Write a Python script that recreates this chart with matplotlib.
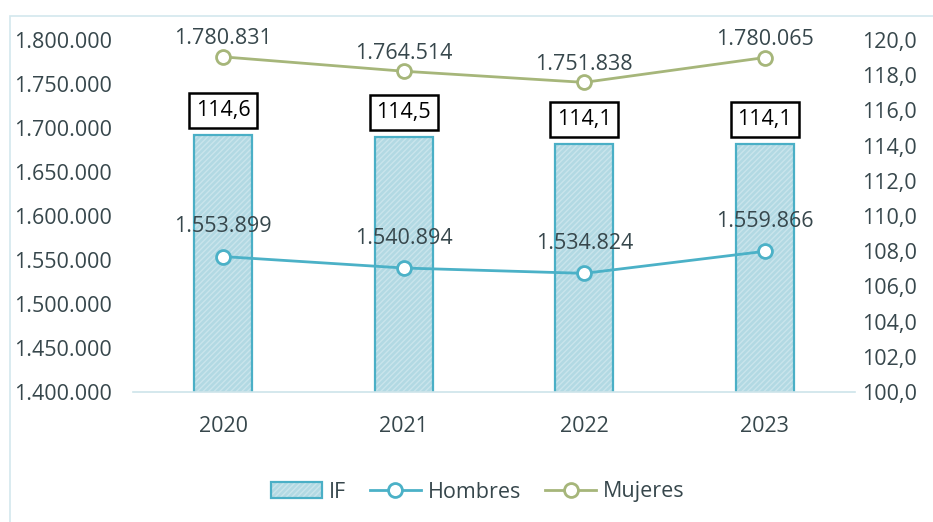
import matplotlib
matplotlib.use("Agg")
import matplotlib.pyplot as plt
from matplotlib.legend_handler import HandlerTuple
from matplotlib.patches import Rectangle

years = ["2020", "2021", "2022", "2023"]
indice_f = [114.6, 114.5, 114.1, 114.1]
hombres = [1553899, 1540894, 1534824, 1559866]
mujeres = [1780831, 1764514, 1751838, 1780065]


def miles(v):
    return f"{v:,.0f}".replace(",", ".")


txt = "#37474c"
c_bar = "#b2d9e3"
c_edge = "#4aafc6"
c_h = "#4bb1c7"
c_m = "#a6b67a"
fs = 15.5
plt.rcParams["font.family"] = ["Open Sans", "DejaVu Sans"]
plt.rcParams["font.size"] = fs

fig = plt.figure(figsize=(9.33, 5.22), dpi=100)
# chart frame (only left and top edges visible)
fig.patches.append(Rectangle((10 / 933, -0.1), 1.2, 1 - 16 / 522 + 0.1,
                             transform=fig.transFigure, fill=False,
                             edgecolor="#d3e8ed", lw=1.2))

ax = fig.add_axes([133 / 933, 1 - 392 / 522, 722 / 933, 352 / 522])
ax2 = ax.twinx()
x = range(len(years))

# bars on right axis
b1 = ax2.bar(x, indice_f, width=0.32, color=c_bar, edgecolor=(1, 1, 1, 0.3),
             hatch="//////", lw=0, zorder=2)
b2 = ax2.bar(x, indice_f, width=0.32, facecolor="none", edgecolor=c_edge,
             lw=1.6, zorder=3)
for i, v in enumerate(indice_f):
    ax2.annotate(f"{v:.1f}".replace(".", ","), (i, v), xytext=(0, 10),
                 textcoords="offset points", ha="center", va="bottom",
                 color="black", fontsize=fs,
                 bbox=dict(boxstyle="square,pad=0.32", fc="white", ec="black", lw=1.8))
ax2.set_ylim(100, 120)
ax2.set_yticks([100 + 2 * k for k in range(11)])
ax2.set_yticklabels([f"{100 + 2 * k:.1f}".replace(".", ",") for k in range(11)])

# lines on left axis, drawn above bars
ax.set_zorder(ax2.get_zorder() + 1)
ax.patch.set_visible(False)
lh, = ax.plot(x, hombres, color=c_h, lw=2, marker="o", ms=10, mfc="white",
              mec=c_h, mew=2, zorder=4)
lm, = ax.plot(x, mujeres, color=c_m, lw=2, marker="o", ms=10, mfc="white",
              mec=c_m, mew=2, zorder=4)
for i, v in enumerate(hombres):
    ax.annotate(miles(v), (i, v), xytext=(0, 14), textcoords="offset points",
                ha="center", va="bottom", color=txt)
for i, v in enumerate(mujeres):
    ax.annotate(miles(v), (i, v), xytext=(0, 5.5), textcoords="offset points",
                ha="center", va="bottom", color=txt)
ax.set_ylim(1400000, 1800000)
ax.set_yticks(range(1400000, 1800001, 50000))
ax.set_yticklabels([miles(v) for v in range(1400000, 1800001, 50000)])
ax.set_xlim(-0.5, 3.5)
ax.set_xticks(list(x))
ax.set_xticklabels(years)

for a in (ax, ax2):
    for s in a.spines.values():
        s.set_visible(False)
    a.tick_params(length=0, colors=txt, labelsize=fs)
ax.spines["bottom"].set_visible(True)
ax.spines["bottom"].set_color("#cde4ea")
ax.spines["bottom"].set_linewidth(1.2)
ax.tick_params(axis="y", pad=15)
ax.tick_params(axis="x", pad=17)
ax2.tick_params(axis="y", pad=5)

fig.legend([(b1[0], b2[0]), lh, lm], ["IF", "Hombres", "Mujeres"],
           handler_map={tuple: HandlerTuple(ndivide=1)},
           loc="center", bbox_to_anchor=(0.5 + 11 / 933, 1 - 492 / 522), ncol=3,
           frameon=False, labelcolor=txt, fontsize=fs, handlelength=2.4,
           columnspacing=1.1, handletextpad=0.3)

fig.savefig("out.png", dpi=100)
